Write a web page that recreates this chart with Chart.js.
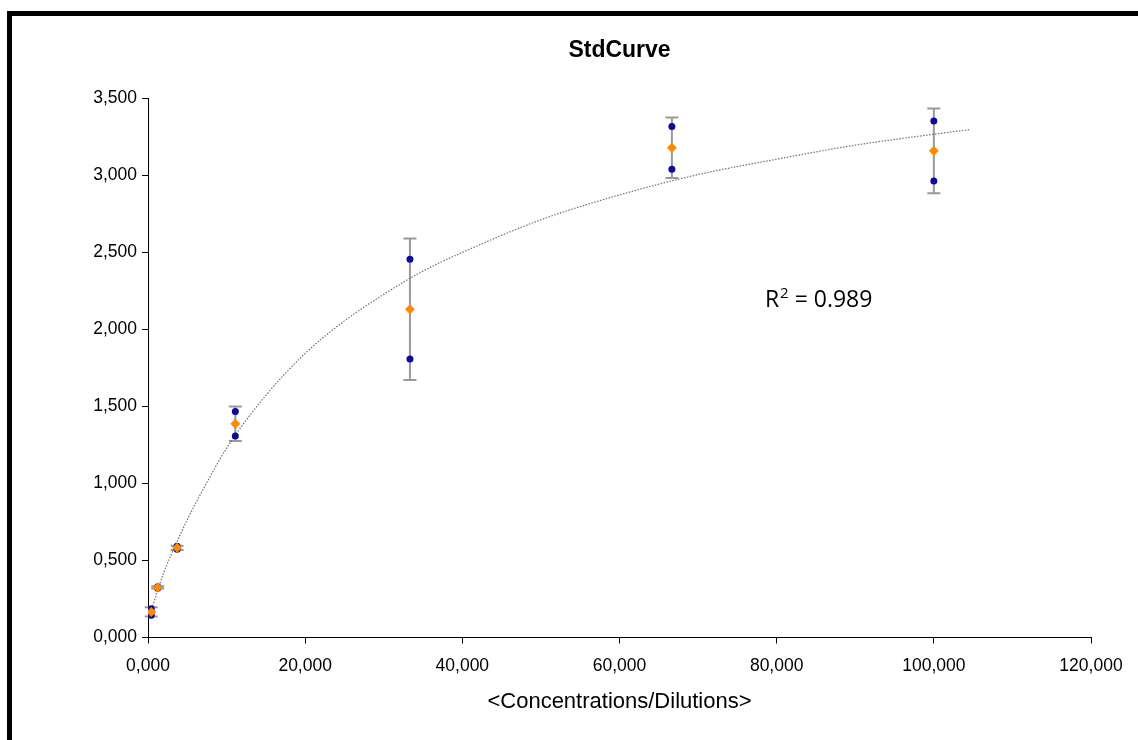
<!DOCTYPE html>
<html><head><meta charset="utf-8">
<script src="https://cdn.jsdelivr.net/npm/chart.js@4.4.0/dist/chart.umd.min.js"></script>
<style>
html,body{margin:0;padding:0;background:#fff;overflow:hidden}
#wrap{position:relative;width:1138px;height:740px;overflow:hidden}
#frame{position:absolute;left:7px;top:11px;width:1200px;height:800px;border:5px solid #000;box-sizing:border-box;pointer-events:none}
canvas{position:absolute;left:0;top:0}
</style></head><body>
<div id="wrap"><canvas id="c" width="1138" height="740"></canvas><div id="frame"></div></div>
<script>
const concentrations = [100, 66.667, 33.333, 11.111, 3.704, 1.235, 0.412];
const replicate1 = [3.351, 3.315, 2.454, 1.466, 0.592, 0.330, 0.187];
const replicate2 = [2.962, 3.038, 1.806, 1.307, 0.572, 0.320, 0.144];
const means = [3.157, 3.177, 2.130, 1.387, 0.582, 0.325, 0.166];
const sds = [0.275, 0.196, 0.459, 0.112, 0.014, 0.007, 0.030];
const trendX = [0.15, 1, 2, 3, 5, 7.5, 10, 15, 20, 25, 30, 35, 40, 50, 60, 70, 80, 90, 100, 104.6];
const trendY = [0.129, 0.270, 0.421, 0.542, 0.764, 1.006, 1.228, 1.571, 1.843, 2.054, 2.226, 2.377, 2.498, 2.710, 2.871, 3.003, 3.103, 3.194, 3.265, 3.295];
const xTicks = [0, 20, 40, 60, 80, 100, 120];
const yTicks = [0, 0.5, 1, 1.5, 2, 2.5, 3, 3.5];
const titleText = 'StdCurve';
const xTitle = '<Concentrations/Dilutions>';
const r2Text = ['R', '2', ' = 0.989'];
const r2Pos = [78.5, 2.147];

const fmt = v => Number(v).toFixed(3).replace('.', ',');

const meanPts = concentrations.map((x, i) => ({x, y: means[i]}));
const repPts = concentrations.map((x, i) => ({x, y: replicate1[i]}))
  .concat(concentrations.map((x, i) => ({x, y: replicate2[i]})));
const trendPts = trendX.map((x, i) => ({x, y: trendY[i]}));

const errorBars = {
  id: 'errorBars',
  beforeDatasetsDraw(chart) {
    const {ctx, scales: {x, y}} = chart;
    ctx.save();
    ctx.strokeStyle = '#9a9a9a';
    ctx.lineWidth = 2;
    concentrations.forEach((c, i) => {
      const px = x.getPixelForValue(c);
      const top = y.getPixelForValue(means[i] + sds[i]);
      const bot = y.getPixelForValue(means[i] - sds[i]);
      ctx.beginPath();
      ctx.moveTo(px, top); ctx.lineTo(px, bot);
      ctx.moveTo(px - 6.5, top); ctx.lineTo(px + 6.5, top);
      ctx.moveTo(px - 6.5, bot); ctx.lineTo(px + 6.5, bot);
      ctx.stroke();
    });
    ctx.restore();
  },
  afterDatasetsDraw(chart) {
    const {ctx, scales: {x, y}} = chart;
    const px = x.getPixelForValue(r2Pos[0]);
    const py = y.getPixelForValue(r2Pos[1]);
    ctx.save();
    ctx.fillStyle = '#000';
    ctx.textBaseline = 'alphabetic';
    ctx.textAlign = 'left';
    ctx.font = '23px "Open Sans", sans-serif';
    ctx.fillText(r2Text[0], px, py);
    let w = ctx.measureText(r2Text[0]).width;
    ctx.font = '15px "Open Sans", sans-serif';
    ctx.fillText(r2Text[1], px + w + 1, py - 9);
    w += ctx.measureText(r2Text[1]).width + 1;
    ctx.font = '23px "Open Sans", sans-serif';
    ctx.fillText(r2Text[2], px + w, py);
    ctx.restore();
  }
};

const tickFont = {family: '"Liberation Sans", Arial, sans-serif', size: 17.5};

new Chart(document.getElementById('c'), {
  type: 'scatter',
  data: {
    datasets: [
      {label: 'Mean', data: meanPts, pointStyle: 'rectRot', pointRadius: 5, pointHoverRadius: 5,
       backgroundColor: '#ff8a00', borderColor: '#ff8a00', borderWidth: 0},
      {label: 'Replicates', data: repPts, pointStyle: 'circle', pointRadius: 3.5, pointHoverRadius: 3.5,
       backgroundColor: '#0a0a9c', borderColor: '#0a0a9c', borderWidth: 0},
      {label: 'Trend', type: 'line', data: trendPts, showLine: true, pointRadius: 0,
       borderColor: '#707070', borderWidth: 1.2, borderDash: [1.5, 1.5], cubicInterpolationMode: 'monotone', fill: false}
    ]
  },
  options: {
    responsive: false,
    animation: false,
    devicePixelRatio: 1,
    layout: {padding: {left: 0, right: 47, top: 0, bottom: 0}},
    plugins: {
      legend: {display: false},
      tooltip: {enabled: false},
      title: {display: true, text: titleText, fullSize: false, color: '#000',
        font: {family: '"Liberation Sans", Arial, sans-serif', size: 23, weight: 'bold'},
        padding: {top: 37, bottom: 33.4}}
    },
    scales: {
      x: {
        type: 'linear', min: 0, max: 120,
        afterFit(s) { s.height = 102.5; },
        afterBuildTicks(s) { s.ticks = xTicks.map(v => ({value: v})); },
        ticks: {callback: v => fmt(v), color: '#000', font: tickFont, padding: 12, maxRotation: 0},
        grid: {display: true, drawOnChartArea: false, drawTicks: true, tickLength: 6, color: '#000', tickColor: '#000'},
        border: {display: true, color: '#000', width: 1},
        title: {display: true, text: xTitle, color: '#000',
          font: {family: '"Liberation Sans", Arial, sans-serif', size: 22}, padding: {top: 0, bottom: 24.8}}
      },
      y: {
        type: 'linear', min: 0, max: 3.5,
        afterFit(s) { s.width = 148; },
        afterBuildTicks(s) { s.ticks = yTicks.map(v => ({value: v})); },
        ticks: {callback: v => fmt(v), color: '#000', font: tickFont, padding: 5},
        grid: {display: true, drawOnChartArea: false, drawTicks: true, tickLength: 6, color: '#000', tickColor: '#000'},
        border: {display: true, color: '#000', width: 1}
      }
    }
  },
  plugins: [errorBars]
});
</script>
</body></html>
